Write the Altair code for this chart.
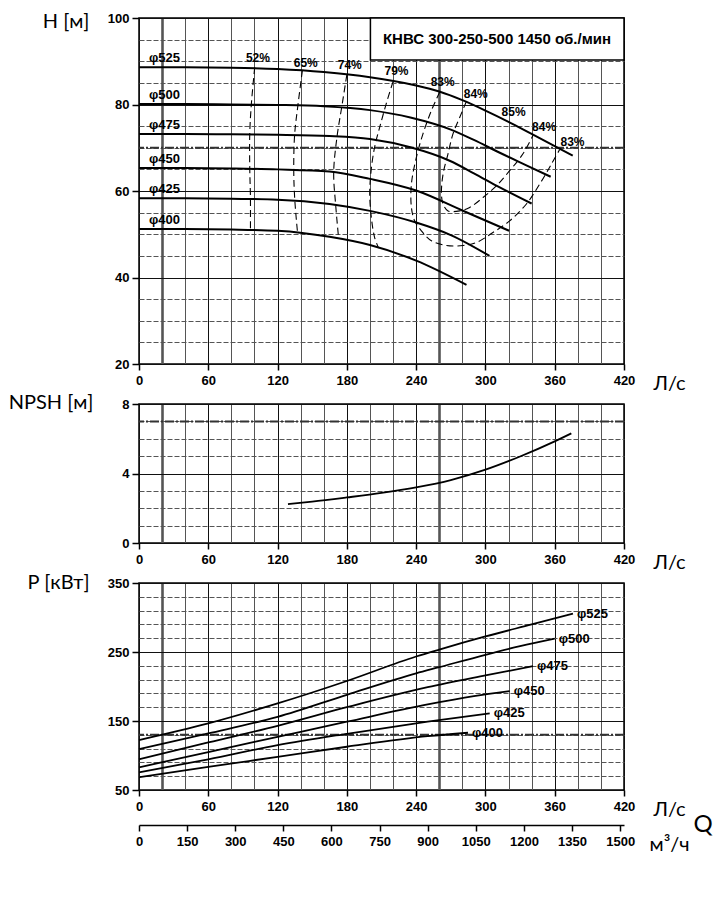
import altair as alt
import pandas as pd

# ---------------- data (Q in L/s) ----------------
diameters = ["φ525", "φ500", "φ475", "φ450", "φ425", "φ400"]

# Head curves H(Q), m
head_q_525 = [0, 40, 80, 120, 160, 200, 240, 260, 280, 300, 320, 340, 360, 375.6]
head_h_525 = [88.6, 88.6, 88.5, 88.2, 87.5, 86.3, 84.4, 83.0, 81.0, 78.6, 76.0, 73.2, 70.4, 68.2]
head_q_500 = [0, 40, 80, 120, 160, 200, 235, 270, 290, 312, 335, 356.5]
head_h_500 = [80.1, 80.1, 80.0, 79.9, 79.6, 78.7, 77.0, 74.2, 71.8, 68.9, 66.0, 63.3]
head_q_475 = [0, 40, 80, 120, 165, 200, 235, 269, 290, 312, 340]
head_h_475 = [73.2, 73.2, 73.1, 73.0, 72.7, 72.0, 70.1, 67.0, 64.1, 60.9, 57.1]
head_q_450 = [0, 40, 80, 120, 165, 200, 240, 280, 320.5]
head_h_450 = [65.3, 65.3, 65.2, 65.0, 64.5, 62.8, 60.1, 55.5, 50.8]
head_q_425 = [0, 40, 80, 120, 165, 200, 240, 270, 303.5]
head_h_425 = [58.3, 58.3, 58.2, 58.0, 57.0, 55.4, 52.7, 49.8, 45.0]
head_q_400 = [0, 40, 80, 120, 165, 200, 240, 283.6]
head_h_400 = [51.2, 51.2, 51.1, 50.8, 49.4, 47.5, 43.9, 38.3]

# Iso-efficiency lines (dashed)
eff_q_52 = [100.2, 97.3, 95.9, 95.9, 96.5, 96.5]
eff_h_52 = [88.6, 80.1, 73.2, 65.5, 58.5, 51.0]
eff_q_65 = [141.5, 137.7, 134.8, 134.0, 134.8, 137.2]
eff_h_65 = [87.9, 80.0, 73.1, 65.3, 58.4, 50.6]
eff_q_74 = [180.0, 175.5, 171.5, 168.6, 170.3, 172.9]
eff_h_74 = [86.9, 79.3, 72.6, 64.3, 56.8, 49.0]
eff_q_79 = [220.0, 214.0, 208.4, 204.0, 201.0, 199.8, 201.2, 204.0, 207.5]
eff_h_79 = [85.3, 80.1, 74.7, 70.1, 64.7, 59.3, 53.9, 49.3, 46.8]
eff_q_83 = [260.4, 253.2, 245.9, 240.2, 235.9, 235.9, 238.7, 244.5, 253.2, 266.2,
            280.6, 292.2, 306.5, 321.0, 335.5, 347.0, 357.1, 364.3]
eff_h_83 = [82.9, 78.6, 73.2, 67.8, 61.6, 56.2, 53.1, 50.8, 48.5, 47.4,
            47.4, 48.1, 50.4, 53.1, 57.0, 61.6, 66.2, 69.6]
eff_q_84 = [283.5, 277.7, 271.9, 267.6, 263.3, 261.9, 263.3, 267.6, 277.7, 286.4,
            297.9, 309.5, 321.0, 332.5, 341.2]
eff_h_84 = [80.7, 77.0, 73.2, 68.6, 63.9, 59.3, 57.0, 55.4, 55.4, 56.2,
            58.5, 61.2, 64.7, 68.6, 72.9]

eff_label_text = ["52%", "65%", "74%", "79%", "83%", "84%", "85%", "84%", "83%"]
eff_label_q = [103.0, 144.4, 182.5, 223.0, 263.0, 291.6, 324.4, 350.8, 375.4]
eff_label_h = [90.8, 89.7, 89.2, 87.8, 85.2, 82.5, 78.3, 74.9, 71.4]

# NPSH required, m
npsh_q = [129, 150, 180, 210, 240, 270, 300, 330, 360, 374.4]
npsh_v = [2.24, 2.38, 2.62, 2.88, 3.2, 3.62, 4.22, 4.98, 5.85, 6.31]

# Power curves P(Q), kW
pow_q_525 = [0, 60, 120, 180, 240, 260, 300, 340, 375.8]
pow_p_525 = [122.4, 146.5, 175.5, 208, 243.5, 253.5, 272.5, 290, 305.7]
pow_q_500 = [0, 60, 120, 180, 240, 260, 300, 330, 360]
pow_p_500 = [109.4, 132, 156, 188, 219, 228, 246, 258.5, 269.5]
pow_q_475 = [0, 60, 120, 180, 250, 300, 341.2]
pow_p_475 = [94.4, 119, 143, 170, 199, 216, 229.4]
pow_q_450 = [0, 60, 120, 180, 250, 290, 321]
pow_p_450 = [82.9, 105, 127, 149, 174, 186, 193.3]
pow_q_425 = [0, 60, 120, 180, 250, 303.7]
pow_p_425 = [75.6, 94.5, 115, 131.5, 149, 161]
pow_q_400 = [0, 60, 120, 180, 250, 284.9]
pow_p_400 = [68.4, 83.5, 98, 112.7, 128, 133]

title_text = ["КНВС 300-250-500 1450 об./мин"]
title_box_q = [200.4]
title_box_q2 = [420]
title_box_h = [90.3]
title_box_h2 = [100]
title_q = [310]
title_h = [95.1]

h_emph = [70]
npsh_emph = [7]
p_emph = [130]

q_ticks = list(range(0, 421, 20))
m3h_ticks = list(range(0, 1501, 150))
Q_MAX = 420
M3H_MAX = Q_MAX * 3.6

# ---------------- tables ----------------
head_sets = [(head_q_525, head_h_525), (head_q_500, head_h_500), (head_q_475, head_h_475),
             (head_q_450, head_h_450), (head_q_425, head_h_425), (head_q_400, head_h_400)]
pow_sets = [(pow_q_525, pow_p_525), (pow_q_500, pow_p_500), (pow_q_475, pow_p_475),
            (pow_q_450, pow_p_450), (pow_q_425, pow_p_425), (pow_q_400, pow_p_400)]
eff_sets = [("52", eff_q_52, eff_h_52), ("65", eff_q_65, eff_h_65), ("74", eff_q_74, eff_h_74),
            ("79", eff_q_79, eff_h_79), ("83", eff_q_83, eff_h_83), ("84", eff_q_84, eff_h_84)]

df_head = pd.DataFrame([{"d": d, "q": q, "h": h}
                        for d, (qs, hs) in zip(diameters, head_sets) for q, h in zip(qs, hs)])
df_head_lbl = pd.DataFrame([{"d": d, "q": qs[0], "h": hs[0]} for d, (qs, hs) in zip(diameters, head_sets)])
df_eff = pd.DataFrame([{"e": e, "i": i, "q": q, "h": h}
                       for e, qs, hs in eff_sets for i, (q, h) in enumerate(zip(qs, hs))])
df_eff_lbl = pd.DataFrame({"t": eff_label_text, "q": eff_label_q, "h": eff_label_h})
df_box = pd.DataFrame({"q": title_box_q, "q2": title_box_q2, "h": title_box_h, "h2": title_box_h2})
df_title = pd.DataFrame({"t": title_text, "q": title_q, "h": title_h})
df_npsh = pd.DataFrame({"q": npsh_q, "h": npsh_v})
df_pow = pd.DataFrame([{"d": d, "q": q, "h": p}
                       for d, (qs, ps) in zip(diameters, pow_sets) for q, p in zip(qs, ps)])
df_pow_lbl = pd.DataFrame([{"d": d, "q": qs[-1], "h": ps[-1]} for d, (qs, ps) in zip(diameters, pow_sets)])
df_m3h = pd.DataFrame({"m": [0, M3H_MAX]})

# ---------------- styling helpers ----------------
def cond(test, a, b):
    return {"condition": {"test": test, "value": a}, "value": b}

TITLE_FONT = "Lato"
LBL = dict(labelFont="Liberation Sans", labelFontSize=13, labelFontWeight="bold",
           labelColor="black", labelFlush=False, labelOverlap=False)
TTL = dict(titleFont=TITLE_FONT, titleFontSize=20, titleFontWeight="normal",
           titleColor="black", titleAngle=0, titleBaseline="middle")


def q_axis():
    major = "datum.value % 60 === 0"
    return alt.Axis(values=q_ticks, labelExpr=f"{major} ? datum.label : ''",
                    title="Л/с", titleX=530, titleY=19, titleAlign="center",
                    tickSize=6, tickWidth=1.5, tickColor="black",
                    tickOpacity=cond(major, 1, 0), labelPadding=4,
                    domain=False, grid=True, gridOpacity=1,
                    gridColor=cond(major, "#111111", "#555555"),
                    gridWidth=cond("datum.value === 20 || datum.value === 260", 2.6, 1),
                    **LBL, **TTL)


def v_axis(values, major, title, tx=-50, ty=0):
    return alt.Axis(values=values, labelExpr=f"{major} ? datum.label : ''",
                    title=title, titleX=tx, titleY=ty, titleAlign="right",
                    tickSize=7, tickWidth=1.5, tickColor="black",
                    tickOpacity=cond(major, 1, 0), labelPadding=3,
                    domain=False, grid=True, gridOpacity=1,
                    gridColor=cond(major, "#111111", "#555555"),
                    gridDash=cond(major, [], [5, 2]),
                    gridWidth=1, **LBL, **TTL)


def xq():
    return alt.X("q:Q", scale=alt.Scale(domain=[0, Q_MAX], nice=False, zero=False), axis=q_axis())


# ---------------- H chart ----------------
yh = alt.Y("h:Q", scale=alt.Scale(domain=[20, 100], nice=False, zero=False),
           axis=v_axis(list(range(20, 101, 5)), "datum.value % 20 === 0", "H [м]", -50, 3))

h_rule = alt.Chart(pd.DataFrame({"h": h_emph})).mark_rule(
    color="#333333", strokeWidth=2, strokeDash=[9, 2, 2, 2]).encode(y=yh)
h_eff = alt.Chart(df_eff).mark_line(color="black", strokeWidth=1.1, strokeDash=[7, 4],
                                    interpolate="catmull-rom").encode(
    x=xq(), y=yh, detail="e:N", order="i:Q")
h_lines = alt.Chart(df_head).mark_line(color="black", strokeWidth=2, interpolate="monotone").encode(
    x=xq(), y=yh, detail="d:N", order="q:Q")
h_box = alt.Chart(df_box).mark_rect(fill="white", stroke="black", strokeWidth=1.5).encode(
    x=xq(), x2=alt.X2("q2"), y=yh, y2=alt.Y2("h2"))
h_title = alt.Chart(df_title).mark_text(font="Liberation Sans", fontWeight="bold", fontSize=15,
                                        color="black").encode(x=xq(), y=yh, text="t:N")
h_lbl = alt.Chart(df_head_lbl).mark_text(align="left", dx=10, dy=-9, font="Liberation Sans",
                                         fontWeight="bold", fontSize=13, color="black").encode(
    x=xq(), y=yh, text="d:N")
h_eff_lbl = alt.Chart(df_eff_lbl).mark_text(font="Liberation Sans", fontWeight="bold",
                                            fontSize=12, color="black").encode(
    x=xq(), y=yh, text="t:N")

H = alt.layer(h_rule, h_eff, h_lines, h_box, h_title, h_lbl, h_eff_lbl).properties(width=485, height=346)

# ---------------- NPSH chart ----------------
yn = alt.Y("h:Q", scale=alt.Scale(domain=[0, 8], nice=False, zero=False),
           axis=v_axis(list(range(0, 9, 1)), "datum.value % 4 === 0", "NPSH [м]", -46, -2))
n_rule = alt.Chart(pd.DataFrame({"h": npsh_emph})).mark_rule(
    color="#333333", strokeWidth=2, strokeDash=[9, 2, 2, 2]).encode(y=yn)
n_line = alt.Chart(df_npsh).mark_line(color="black", strokeWidth=1.8, interpolate="monotone").encode(
    x=xq(), y=yn)
N = alt.layer(n_rule, n_line).properties(width=485, height=139)

# ---------------- Power chart ----------------
yp = alt.Y("h:Q", scale=alt.Scale(domain=[50, 350], nice=False, zero=False),
           axis=v_axis(list(range(50, 351, 20)), "(datum.value - 50) % 100 === 0", "P [кВт]", -50, -1))
p_rule = alt.Chart(pd.DataFrame({"h": p_emph})).mark_rule(
    color="#333333", strokeWidth=2, strokeDash=[9, 2, 2, 2]).encode(y=yp)
p_lines = alt.Chart(df_pow).mark_line(color="black", strokeWidth=1.8, interpolate="monotone").encode(
    x=xq(), y=yp, detail="d:N", order="q:Q")
p_lbl = alt.Chart(df_pow_lbl).mark_text(align="left", dx=4, font="Liberation Sans",
                                        fontWeight="bold", fontSize=13, color="black").encode(
    x=xq(), y=yp, text="d:N")
p_q = alt.Chart(pd.DataFrame({"t": ["Q"]})).mark_text(font=TITLE_FONT, fontSize=24,
                                                      color="black").encode(
    x=alt.value(564), y=alt.value(242), text="t:N")
p_inner = alt.layer(p_rule, p_lines, p_lbl, p_q)

m3h_axis = alt.Axis(orient="bottom", offset=35, values=m3h_ticks, format="d", title="м³/ч",
                    titleX=530, titleY=19, titleAlign="center",
                    tickSize=6, tickWidth=1.5, tickColor="black", labelPadding=4,
                    domain=True, domainColor="black", domainWidth=1.5, grid=False,
                    **LBL, **TTL)
p_m3h = alt.Chart(df_m3h).mark_point(opacity=0).encode(
    x=alt.X("m:Q", scale=alt.Scale(domain=[0, M3H_MAX], nice=False, zero=False), axis=m3h_axis))

P = alt.layer(p_inner, p_m3h).resolve_scale(x="independent").properties(width=485, height=207)

chart = alt.vconcat(H, N, P, spacing=40, bounds="flush").properties(
    padding={"left": 0, "top": 2, "right": 5, "bottom": 5}
).configure_view(stroke="black", strokeWidth=1.5)

chart.save("out.html", embed_options={"renderer": "svg", "actions": False})
